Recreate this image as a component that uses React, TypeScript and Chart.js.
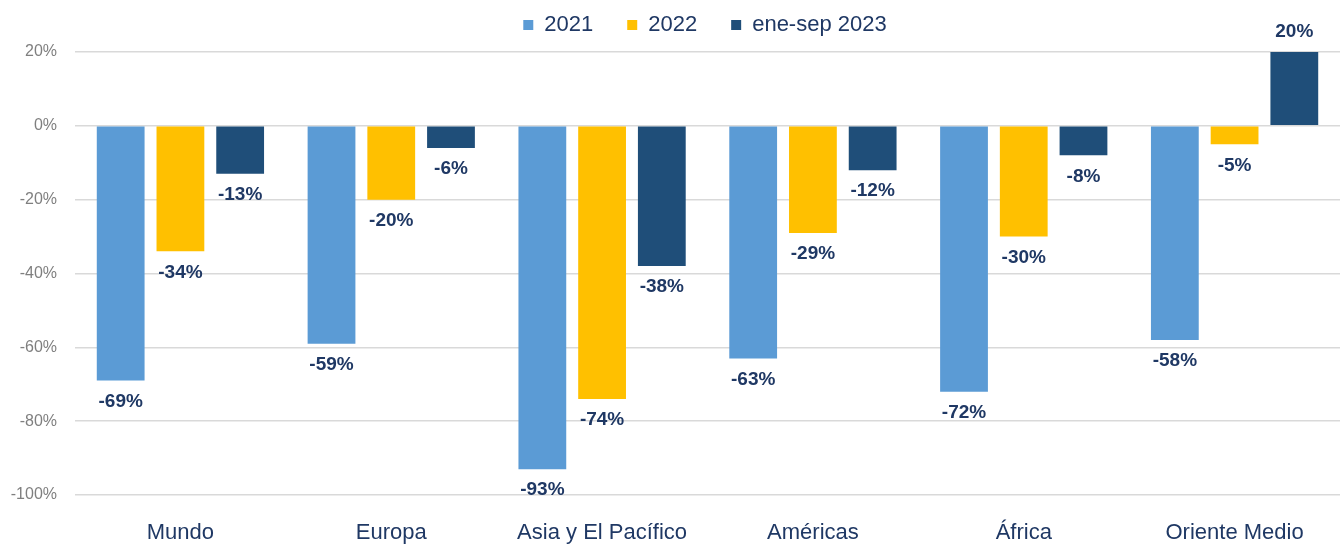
import React, { useEffect, useRef } from "react";
import { Chart, registerables } from "chart.js";

Chart.register(...registerables);

const categories = ["Mundo", "Europa", "Asia y El Pacífico", "Américas", "África", "Oriente Medio"];
const seriesNames = ["2021", "2022", "ene-sep 2023"];
const values2021 = [-69, -59, -93, -63, -72, -58];
const values2022 = [-34, -20, -74, -29, -30, -5];
const values2023 = [-13, -6, -38, -12, -8, 20];
const seriesColors = ["#5B9BD5", "#FFC000", "#1F4E79"];
const yTicks = [20, 0, -20, -40, -60, -80, -100];

const NAVY = "#1F3864";

const dataLabelPlugin = {
  id: "dataLabels",
  afterDatasetsDraw(chart: any) {
    const ctx = chart.ctx;
    ctx.save();
    ctx.font = "bold 19px 'Liberation Sans', Arial, sans-serif";
    ctx.fillStyle = NAVY;
    ctx.textAlign = "center";
    ctx.textBaseline = "middle";
    chart.data.datasets.forEach((ds: any, i: number) => {
      const meta = chart.getDatasetMeta(i);
      meta.data.forEach((el: any, j: number) => {
        const v = ds.data[j];
        const y = v < 0 ? el.y + 21 : el.y - 20;
        ctx.fillText(v + "%", el.x, y);
      });
    });
    ctx.restore();
  },
};

const legendSpacing = {
  id: "legendSpacing",
  beforeInit(chart: any) {
    const origFit = chart.legend.fit;
    chart.legend.fit = function () {
      origFit.bind(chart.legend)();
      this.height += 6;
    };
  },
  afterLayout(chart: any) {
    chart.legend.left += 30;
    chart.legend.right += 30;
  },
};

export default function App() {
  const ref = useRef<HTMLCanvasElement | null>(null);
  useEffect(() => {
    document.body.style.margin = "0";
    const chart = new Chart(ref.current as HTMLCanvasElement, {
      type: "bar",
      data: {
        labels: categories,
        datasets: [values2021, values2022, values2023].map((d, i) => ({
          label: seriesNames[i],
          data: d,
          backgroundColor: seriesColors[i],
          categoryPercentage: 0.85,
          barPercentage: 0.8,
        })),
      },
      options: {
        responsive: false,
        animation: false,
        layout: { padding: { left: 10, right: 0, top: -20, bottom: 0 } },
        plugins: {
          legend: {
            position: "top",
            labels: {
              boxWidth: 10,
              boxHeight: 10,
              padding: 34,
              color: NAVY,
              font: { size: 22, family: "'Liberation Sans', Arial, sans-serif" },
            },
          },
          tooltip: { enabled: false },
        },
        scales: {
          x: {
            grid: { display: false, drawTicks: false },
            border: { display: false },
            afterFit: (axis: any) => {
              axis.height = 50;
            },
            ticks: {
              color: NAVY,
              padding: 25,
              maxRotation: 0,
              minRotation: 0,
              font: { size: 22, family: "'Liberation Sans', Arial, sans-serif" },
            },
          },
          y: {
            min: -100,
            max: 20,
            afterBuildTicks: (axis: any) => {
              axis.ticks = yTicks.map((v) => ({ value: v }));
            },
            afterFit: (axis: any) => {
              axis.width = 65;
            },
            grid: { color: "#D9D9D9", drawTicks: false, lineWidth: 1.5 },
            border: { display: false },
            ticks: {
              color: "#7F7F7F",
              padding: 18,
              font: { size: 16, family: "'Liberation Sans', Arial, sans-serif" },
              callback: (v: any) => v + "%",
            },
          },
        },
      },
      plugins: [dataLabelPlugin, legendSpacing],
    });
    return () => chart.destroy();
  }, []);
  return <canvas ref={ref} width={1340} height={545} style={{ display: "block" }} />;
}
